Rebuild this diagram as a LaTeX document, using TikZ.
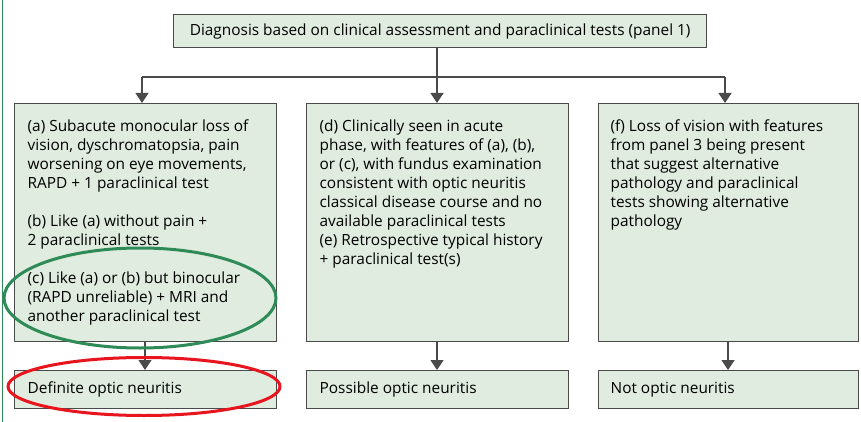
\documentclass[tikz,border=0pt]{standalone}
\usepackage{fontspec}
\setmainfont{Open Sans}
\usetikzlibrary{arrows.meta}
\definecolor{boxfill}{HTML}{E0ECDF}
\definecolor{boxline}{HTML}{4A4A4A}
\definecolor{ovalgreen}{HTML}{2E8B57}
\definecolor{ovalred}{HTML}{E8141E}
\tikzset{
  box/.style={draw=boxline, line width=1.3pt, fill=boxfill, inner sep=0pt, anchor=north west},
  conn/.style={draw=boxline, line width=1.3pt},
  arr/.style={conn, -{Triangle[length=10pt,width=13pt]}},
  oval/.style={line width=3pt},
}
\newcommand{\boxtext}[1]{\parbox[c][224pt][t]{236pt}{\raggedright\fontsize{15.4}{19}\selectfont\vspace*{9pt}#1}}
\newcommand{\smalltext}[1]{\parbox[c][36pt][c]{236pt}{\raggedright\fontsize{15.4}{19}\selectfont #1}}
\begin{document}
\begin{tikzpicture}[x=1pt,y=-1pt]
\useasboundingbox (0,0) rectangle (861,422);
\fill[white] (0,0) rectangle (861,422);
\draw[ovalgreen, line width=1pt] (2,0) -- (2,422);
% top
\node[box, minimum width=533pt, minimum height=33pt, font=\fontsize{15.4}{18}\selectfont] (top) at (173,14) {Diagnosis based on clinical assessment and paraclinical tests (panel 1)};
% middle boxes
\node[box, minimum width=262pt, minimum height=238pt] (a) at (14,103) {\boxtext{(a) Subacute monocular loss of\\ vision, dyschromatopsia, pain\\ worsening on eye movements,\\ RAPD + 1 paraclinical test\\[19pt]
(b) Like (a) without pain +\\ 2 paraclinical tests\\[19pt]
(c) Like (a) or (b) but binocular\\ (RAPD unreliable) + MRI and\\ another paraclinical test}};
\node[box, minimum width=262pt, minimum height=238pt] (d) at (306,103) {\boxtext{(d) Clinically seen in acute\\ phase, with features of (a), (b),\\ or (c), with fundus examination\\ consistent with optic neuritis\\ classical disease course and no\\ available paraclinical tests\\
(e) Retrospective typical history\\ + paraclinical test(s)}};
\node[box, minimum width=260pt, minimum height=238pt] (f) at (598,103) {\boxtext{(f) Loss of vision with features\\ from panel 3 being present\\ that suggest alternative\\ pathology and paraclinical\\ tests showing alternative\\ pathology}};
% bottom boxes
\node[box, minimum width=262pt, minimum height=38pt] (def) at (14,370) {\smalltext{Definite optic neuritis}};
\node[box, minimum width=262pt, minimum height=38pt] (pos) at (306,370) {\smalltext{Possible optic neuritis}};
\node[box, minimum width=260pt, minimum height=38pt] (nopt) at (598,370) {\smalltext{Not optic neuritis}};
% connectors
\coordinate (split) at (437,77);
\coordinate (la) at (142,77);
\coordinate (rf) at (725,77);
\draw[conn] (top.south -| split) -- (split);
\draw[conn] (la) -- (rf);
\draw[arr] (la) -- (la |- a.north);
\draw[arr] (split) -- (split |- d.north);
\draw[arr] (rf) -- (rf |- f.north);
\draw[arr] (a.south -| 145,0) -- (def.north -| 145,0);
\draw[arr] (d.south -| 437,0) -- (pos.north -| 437,0);
\draw[arr] (f.south -| 728,0) -- (nopt.north -| 728,0);
% highlight ovals
\draw[ovalgreen, oval] (140,298) ellipse [x radius=136pt, y radius=50pt];
\draw[ovalred, oval] (144,386.5) ellipse [x radius=136pt, y radius=29pt];
\end{tikzpicture}
\end{document}
